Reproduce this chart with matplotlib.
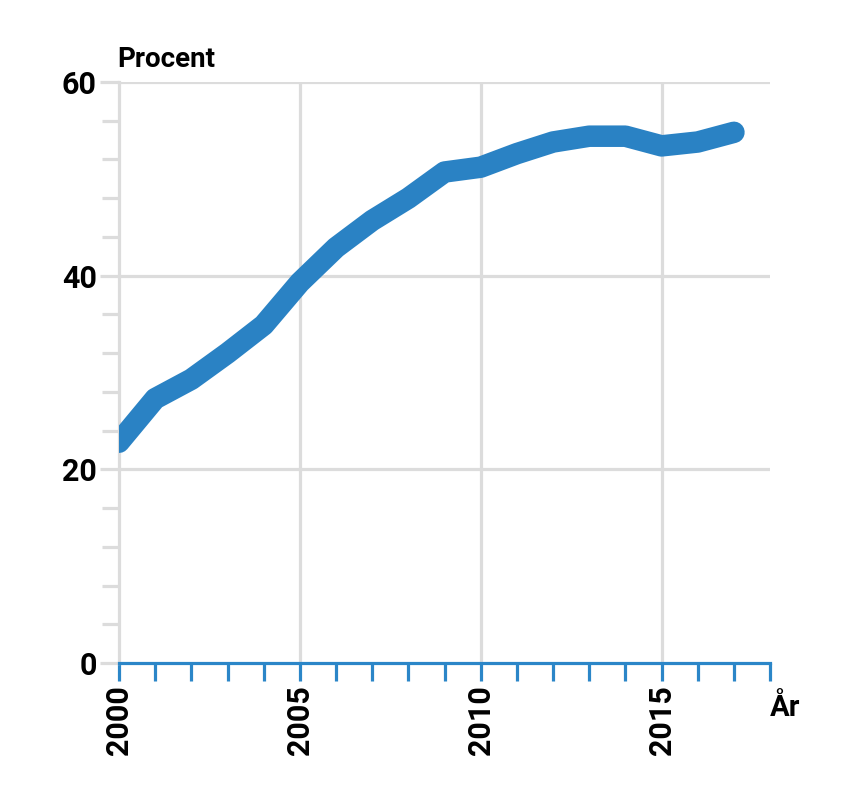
import matplotlib
matplotlib.use("Agg")
from matplotlib import pyplot as plt
from matplotlib.ticker import MultipleLocator

# data
years = [2000, 2001, 2002, 2003, 2004, 2005, 2006, 2007, 2008,
         2009, 2010, 2011, 2012, 2013, 2014, 2015, 2016, 2017]
procent = [22.8, 27.3, 29.3, 32.0, 34.9, 39.3, 42.9, 45.7, 48.0,
           50.7, 51.2, 52.6, 53.8, 54.4, 54.4, 53.4, 53.8, 54.8]
y_ticks = [0, 20, 40, 60]
x_ticks = [2000, 2005, 2010, 2015]

plt.rcParams['font.family'] = ['Roboto', 'DejaVu Sans']

blue = '#2a82c4'
axis_blue = '#2b86c8'
grey = '#dcdcdc'

fig = plt.figure(figsize=(8.5, 8.02), dpi=100)
ax = fig.add_axes([0.14, 0.1733, 0.766, 0.7245])

ax.set_xlim(2000, 2018)
ax.set_ylim(0, 60)

# grid
for yv in [20, 40, 60]:
    ax.axhline(yv, color=grey, lw=2.3, zorder=1)
for xv in [2005, 2010, 2015]:
    ax.axvline(xv, color=grey, lw=2.3, zorder=1)

# the series
ax.plot(years, procent, color=blue, lw=15.5, solid_capstyle='round',
        solid_joinstyle='round', zorder=3)

# spines
for s in ['top', 'right']:
    ax.spines[s].set_visible(False)
ax.spines['left'].set_color(grey)
ax.spines['left'].set_linewidth(2.3)
ax.spines['bottom'].set_color(axis_blue)
ax.spines['bottom'].set_linewidth(2.3)
ax.spines['bottom'].set_zorder(4)

# y ticks
ax.set_yticks(y_ticks)
ax.yaxis.set_minor_locator(MultipleLocator(4))
ax.tick_params(axis='y', which='major', color=grey, width=2.3, length=14,
               pad=2, labelsize=22)
ax.tick_params(axis='y', which='minor', color=grey, width=2.3, length=12)

# x ticks
ax.set_xticks(x_ticks)
ax.set_xticklabels([str(x) for x in x_ticks], rotation=90)
ax.xaxis.set_minor_locator(MultipleLocator(1))
ax.tick_params(axis='x', which='both', color=axis_blue, width=2.3, length=13,
               direction='out', pad=3, labelsize=22)

for lab in ax.get_xticklabels() + ax.get_yticklabels():
    lab.set_fontweight('bold')

fig.text(0.138, 0.916, 'Procent', fontsize=20, fontweight='bold',
         ha='left', va='baseline')
fig.text(0.906, 0.117, 'År', fontsize=21, fontweight='bold',
         ha='left', va='center')

fig.savefig('out.png', dpi=100)
